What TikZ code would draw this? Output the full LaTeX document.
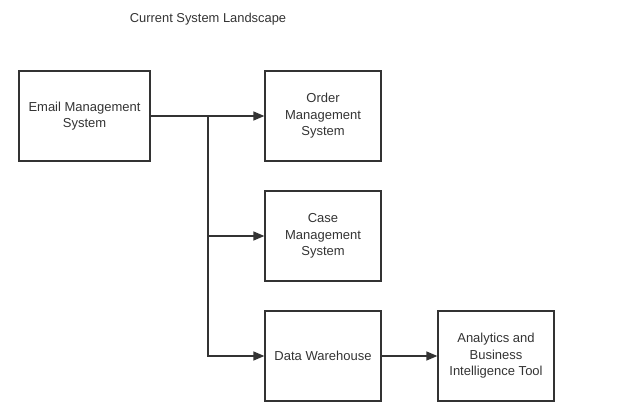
\documentclass[tikz,border=0pt]{standalone}
\usepackage{fontspec}
\setmainfont{Liberation Sans}
\usetikzlibrary{arrows.meta}
\definecolor{linegray}{HTML}{333333}
\begin{document}
\begin{tikzpicture}[x=1pt,y=-1pt,
    sysbox/.style={draw=linegray, line width=1.3pt, minimum width=116pt, minimum height=90pt,
      align=center, inner sep=0pt, text=linegray, font=\fontsize{13}{16.5}\selectfont},
    flow/.style={draw=linegray, line width=1.3pt, -{Triangle[length=11pt,width=9pt]}}]
        \useasboundingbox (0,0) rectangle (640,406);
        \node [text=linegray, font=\fontsize{12.9}{14}\selectfont] (title) at (208,19) {Current System Landscape};
        \node [sysbox, minimum width=131pt] (email) at (84.5,116) {Email Management\\System};
        \node [sysbox] (order) at (323,116) {Order\\Management\\System};
        \node [sysbox] (case) at (323,236) {Case\\Management\\System};
        \node [sysbox] (dw) at (323,356) {Data Warehouse};
        \node [sysbox] (bi) at (496,356) {Analytics and\\Business\\Intelligence Tool};

        \coordinate (split) at (208,116); % Branch point of the trunk.
        \draw [flow] (email) -- (order);
        \draw [flow] (split) |- (dw);
        \draw [flow] (split |- case) -- (case);
        \draw [flow] (dw) -- (bi);
      \end{tikzpicture}
\end{document}
